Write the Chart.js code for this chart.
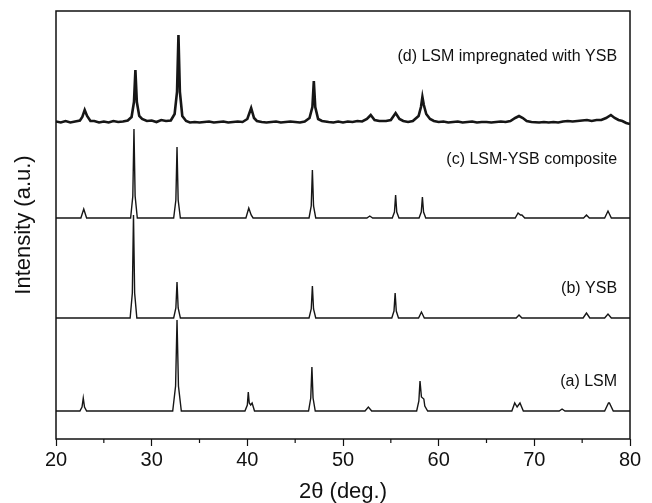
<!DOCTYPE html>
<html lang="en">
<head>
  <meta charset="UTF-8" />
  <title>XRD patterns</title>
  <script src="https://cdn.jsdelivr.net/npm/chart.js"></script>
  <style>
    body { margin: 0; background: #fff; }
    #wrap { width: 652px; height: 503px; position: relative; }
  </style>
</head>
<body>

  <div id="wrap">
    <canvas id="xrdChart"></canvas>
  </div>

<script>

// [2theta, intensity above own baseline]
const lsm = [
  [20,0],[22.5,0],[22.72,4],[22.85,13],[22.98,4],[23.2,0],
  [32.2,0],[32.5,25],[32.65,91],[32.8,25],[33.1,0],
  [39.75,0],[40.0,6],[40.1,19],[40.2,8],[40.35,6],[40.5,8],[40.75,0],
  [46.4,0],[46.63,13],[46.75,44],[46.87,13],[47.1,0],
  [52.3,0],[52.65,4],[53.0,0],
  [57.7,0],[57.93,10],[58.05,30],[58.2,14],[58.45,12],[58.55,5],[58.85,0],
  [67.65,0],[67.95,8],[68.2,4],[68.5,8],[68.85,0],
  [72.6,0],[72.9,2],[73.2,0],
  [77.35,0],[77.75,8],[77.85,8],[78.25,0],[80,0]
];

const ysb = [
  [20,0],[27.75,0],[27.98,25],[28.1,103],[28.22,25],[28.45,0],
  [32.3,0],[32.53,10],[32.65,36],[32.77,10],[33.0,0],
  [46.45,0],[46.68,9],[46.8,32],[46.92,9],[47.15,0],
  [55.1,0],[55.33,7],[55.45,25],[55.57,7],[55.8,0],
  [57.9,0],[58.2,6],[58.5,0],
  [68.1,0],[68.4,3],[68.7,0],
  [75.1,0],[75.45,5],[75.8,0],
  [77.35,0],[77.7,4],[78.05,0],[80,0]
];

const composite = [
  [20,0],[22.6,0],[22.9,9],[23.2,0],
  [27.8,0],[28.03,22],[28.15,89],[28.27,22],[28.5,0],
  [32.3,0],[32.53,18],[32.65,71],[32.77,18],[33.0,0],
  [39.85,0],[40.15,10],[40.4,3],[40.6,0],
  [46.45,0],[46.68,12],[46.8,48],[46.92,12],[47.15,0],
  [52.5,0],[52.8,2],[53.1,0],
  [55.15,0],[55.38,6],[55.5,23],[55.62,6],[55.85,0],
  [57.95,0],[58.18,6],[58.3,21],[58.42,6],[58.65,0],
  [68.0,0],[68.3,5],[68.55,3],[68.7,3],[69.0,0],
  [75.15,0],[75.45,3],[75.75,0],
  [77.35,0],[77.7,7],[78.05,0],[80,0]
];

const impregnated = [
  [20,0.5],[20.5,-0.5],[21,1],[21.5,-0.5],[22,0.5],[22.5,1.5],[22.75,5],[23.0,12],[23.25,6],[23.6,1],
  [24,1],[24.5,-0.5],[25,0.5],[25.5,-0.5],[26,1],[26.5,0],[27,0.5],[27.5,1.5],[27.9,5],
  [28.15,20],[28.3,52],[28.45,20],[28.7,6],[29,3],[29.5,1],[30,1.5],[30.5,0],[31,2],[31.5,1],[32,1.5],
  [32.4,8],[32.65,30],[32.8,87],[32.95,30],[33.2,6],[33.6,1],[34,-0.5],[34.5,0],[35,-0.5],[35.5,0],
  [36,0.5],[36.5,-0.5],[37,0],[37.5,0.5],[38,-0.5],[38.5,0],[39,0.5],[39.5,0],[40.0,3],[40.4,14],[40.7,4],
  [41,1],[41.5,0],[42,-0.5],[42.5,0],[43,0.5],[43.5,-0.5],[44,0],[44.5,0.5],[45,0],[45.5,-0.5],[46,0.5],
  [46.5,4],[46.8,15],[46.95,41],[47.1,15],[47.4,3],[47.8,1],[48.5,0],[49,-0.5],[49.5,0.5],[50,-0.5],
  [50.5,0.5],[51,0],[51.5,1],[52,0.5],[52.5,3],[52.9,7],[53.3,2],[53.8,1],[54.5,1],[55.0,2],
  [55.5,9],[55.9,3],[56.3,1],[56.8,0],[57.3,1],[57.9,6],[58.15,15],[58.3,25],[58.45,17],[58.7,8],
  [59.1,3],[59.5,1],[60,0],[60.5,0.5],[61,-0.5],[61.5,0],[62,0.5],[62.5,-0.5],[63,0],[63.5,0.5],
  [64,-0.5],[64.5,0],[65,0],[65.5,-0.5],[66,0],[66.5,0.5],[67,0],[67.5,1],[68.0,4],[68.4,6],
  [68.8,4],[69.2,1],[69.7,0],[70.5,-0.5],[71,0],[71.5,-0.5],[72,0],[72.5,-0.5],[73,0.5],[73.5,1],
  [74,0.5],[74.5,1],[75,1.5],[75.5,2],[76,1],[76.5,2],[77,2],[77.5,4],[78.0,7],[78.4,4],
  [78.8,2],[79.2,1],[79.6,-1],[80,-2]
];

const seriesNames = ['(a) LSM', '(b) YSB', '(c) LSM-YSB composite', '(d) LSM impregnated with YSB'];
const baselines = [28, 121, 221, 317];
const xTicks = [20, 30, 40, 50, 60, 70, 80];
const xMinorTicks = [25, 35, 45, 55, 65, 75];

// where each name sits (in data units)
const nameX = 78.65;
const nameY = [57, 150, 279, 382];

const traces = [lsm, ysb, composite, impregnated];

const datasets = traces.map((t, i) => ({
  label: seriesNames[i],
  data: t.map(p => ({ x: p[0], y: p[1] + baselines[i] })),
  borderColor: '#161616',
  borderWidth: i === 3 ? 2.6 : 1.4,
  pointRadius: 0,
  tension: 0,
  fill: false
}));

const framePlugin = {
  id: 'frame',
  afterDraw(chart) {
    const c = chart.ctx;
    const a = chart.chartArea;
    const xs = chart.scales.x;
    c.save();
    c.strokeStyle = '#111';
    c.lineWidth = 1.5;
    c.strokeRect(a.left, a.top, a.right - a.left, a.bottom - a.top);
    c.lineWidth = 1.2;
    c.beginPath();
    xMinorTicks.forEach(v => {
      const px = xs.getPixelForValue(v);
      c.moveTo(px, a.bottom);
      c.lineTo(px, a.bottom + 4);
    });
    c.stroke();
    // series names
    c.fillStyle = '#111';
    c.font = '16px "Liberation Sans", Arial, sans-serif';
    c.textAlign = 'right';
    c.textBaseline = 'middle';
    seriesNames.forEach((n, i) => {
      c.fillText(n, xs.getPixelForValue(nameX), chart.scales.y.getPixelForValue(nameY[i]));
    });
    c.restore();
  }
};

const ctx = document.getElementById('xrdChart').getContext('2d');

const chart = new Chart(ctx, {
  type: 'line',
  data: { datasets: datasets },
  options: {
    responsive: true,
    maintainAspectRatio: false,
    animation: false,
    layout: { padding: { top: 11, right: 22, left: 0, bottom: 0 } },
    scales: {
      x: {
        type: 'linear',
        min: 20,
        max: 80,
        afterFit: s => { s.height = 64; },
        afterBuildTicks: s => { s.ticks = xTicks.map(v => ({ value: v })); },
        ticks: {
          color: '#111',
          padding: 2,
          font: { family: '"Liberation Sans", Arial, sans-serif', size: 20 }
        },
        grid: {
          display: true,
          drawOnChartArea: false,
          drawTicks: true,
          tickLength: 7,
          tickColor: '#111',
          tickWidth: 1.2
        },
        border: { display: false },
        title: {
          display: true,
          text: '2θ (deg.)',
          color: '#111',
          padding: 0,
          font: { family: '"Liberation Sans", Arial, sans-serif', size: 22, lineHeight: 1 }
        }
      },
      y: {
        min: 0,
        max: 428,
        afterFit: s => { s.width = 56; },
        ticks: { display: false },
        grid: { display: false },
        border: { display: false },
        title: {
          display: true,
          text: 'Intensity (a.u.)',
          color: '#111',
          padding: { top: 13, bottom: 0 },
          font: { family: '"Liberation Sans", Arial, sans-serif', size: 22, lineHeight: 1 }
        }
      }
    },
    plugins: {
      legend: { display: false },
      tooltip: { enabled: false }
    }
  },
  plugins: [framePlugin]
});

</script>

</body>
</html>
